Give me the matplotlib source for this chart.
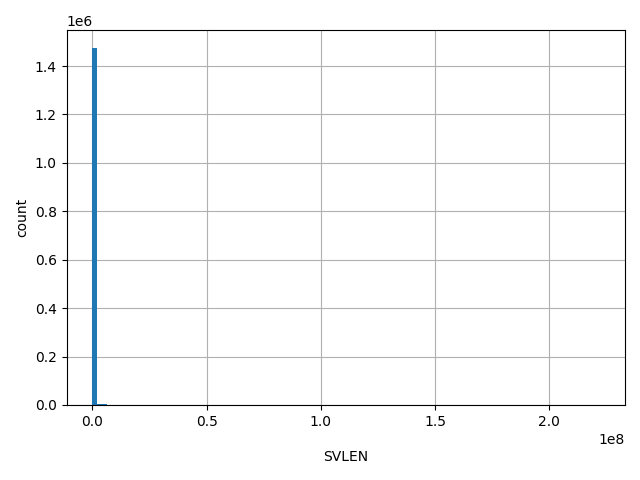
import numpy as np
import matplotlib
matplotlib.use("Agg")
import matplotlib.pyplot as plt

# SVLEN histogram, 100 bins between min and max SVLEN
svlen_min = -2.0e5
svlen_max = 2.22e8
n_bins = 100

# counts for the first few bins (the rest are too small to see)
first_counts = [1475000, 6000, 3000, 800, 400, 200]
tail_counts = [100, 60, 40, 30, 20, 15, 10, 8, 6, 5]


def main():
    edges = np.linspace(svlen_min, svlen_max, n_bins + 1)
    counts = np.zeros(n_bins)
    counts[:len(first_counts)] = first_counts
    counts[len(first_counts):len(first_counts) + len(tail_counts)] = tail_counts
    counts[-1] = 1
    centers = (edges[:-1] + edges[1:]) / 2

    fig = plt.figure(figsize=(6.4, 4.8), dpi=100)
    ax = fig.add_axes([66.5 / 640, 1 - 405 / 480, (625 - 66.5) / 640, (405 - 30) / 480])
    ax.hist(centers, bins=edges, weights=counts)
    ax.grid(True)
    ax.set_axisbelow(True)
    ax.set_xlabel("SVLEN", labelpad=15)
    ax.set_ylabel("count")
    fig.savefig("out.png")


if __name__ == "__main__":
    main()
